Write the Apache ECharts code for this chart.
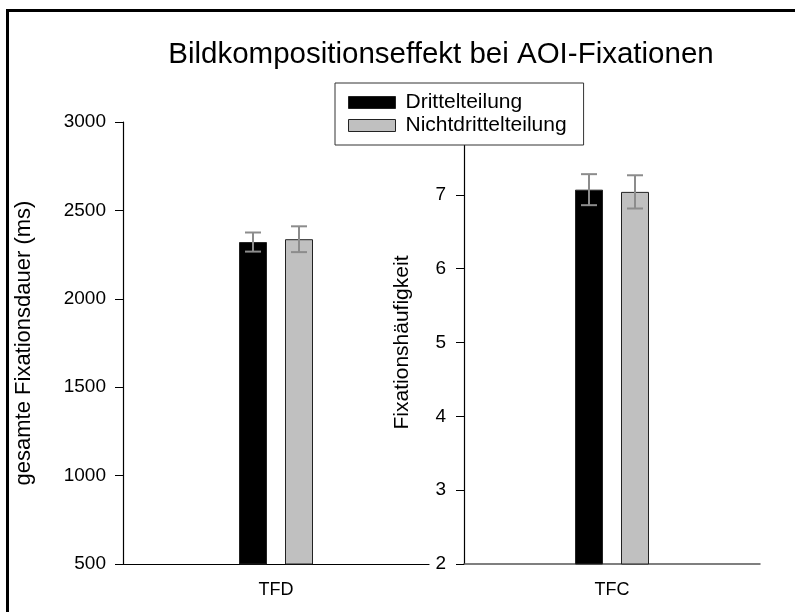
<!DOCTYPE html>
<html>
<head>
<meta charset="utf-8">
<script src="https://cdn.jsdelivr.net/npm/echarts@6/dist/echarts.min.js"></script>
<style>html,body{margin:0;padding:0;background:#fff;}#c{width:795px;height:612px;}</style>
</head>
<body>
<div id="c"></div>
<script>
const titleText = 'Bildkompositionseffekt bei AOI-Fixationen';
const seriesNames = ['Drittelteilung', 'Nichtdrittelteilung'];
const leftCategories = ['TFD'];
const rightCategories = ['TFC'];
const tfdMeans = [2321, 2337];
const tfdErrors = [54, 73];
const tfcMeans = [7.07, 7.04];
const tfcErrors = [0.21, 0.225];
const leftAxisName = 'gesamte Fixationsdauer (ms)';
const rightAxisName = 'Fixationshäufigkeit';

const FONT = 'Liberation Sans, Arial, sans-serif';
const barColors = ['#000000', '#c0c0c0'];
const BAR_W = 28, BAR_GAP = 18;

function errorSeries(xi, yi, means, errs) {
  return {
    type: 'custom', xAxisIndex: xi, yAxisIndex: yi, z: 5, silent: true,
    data: means.map((m, i) => [0, m, errs[i], i]),
    renderItem: function (params, api) {
      const m = api.value(1), e = api.value(2), idx = api.value(3);
      const c = api.coord([0, m]);
      const off = (idx === 0 ? -1 : 1) * (BAR_W + BAR_GAP) / 2;
      const x = c[0] + off;
      const top = api.coord([0, m + e])[1];
      const bot = api.coord([0, m - e])[1];
      const hw = 8;
      const st = { stroke: '#8c8c8c', lineWidth: 2 };
      return { type: 'group', children: [
        { type: 'line', shape: { x1: x, y1: top, x2: x, y2: bot }, style: st },
        { type: 'line', shape: { x1: x - hw, y1: top, x2: x + hw, y2: top }, style: st },
        { type: 'line', shape: { x1: x - hw, y1: bot, x2: x + hw, y2: bot }, style: st }
      ]};
    }
  };
}

function barSeries(name, xi, yi, val, color) {
  return {
    name: name, type: 'bar', xAxisIndex: xi, yAxisIndex: yi,
    data: [val], barWidth: BAR_W, barGap: (BAR_GAP / BAR_W * 100) + '%',
    itemStyle: { color: color, borderColor: '#222', borderWidth: 1 },
    silent: true
  };
}

const plain = v => String(v);

const chart = echarts.init(document.getElementById('c'), null, { renderer: 'canvas' });
chart.setOption({
  animation: false,
  backgroundColor: '#fff',
  textStyle: { fontFamily: FONT },
  title: {
    text: titleText, left: 436, top: 35, textAlign: 'center',
    textStyle: { fontFamily: FONT, fontSize: 29.5, fontWeight: 'normal', color: '#000' }
  },
  legend: {
    data: seriesNames, orient: 'vertical', left: 335, top: 83,
    icon: 'rect',
    itemWidth: 47, itemHeight: 12, itemGap: 2,
    padding: [9, 17, 9, 13],
    backgroundColor: '#fff', borderColor: '#333', borderWidth: 1,
    textStyle: { fontFamily: FONT, fontSize: 21, color: '#000', padding: [0, 0, 0, 5] },
    itemStyle: { borderColor: '#222', borderWidth: 1 },
    z: 10
  },
  graphic: [{
    type: 'rect', shape: { x: 7.5, y: 10.5, width: 900, height: 700 },
    style: { fill: 'none', stroke: '#000', lineWidth: 3 }, silent: true
  }],
  grid: [
    { left: 123, top: 122, width: 306, height: 442 },
    { left: 464, top: 121, width: 296, height: 443 }
  ],
  xAxis: [
    { type: 'category', gridIndex: 0, data: leftCategories,
      axisLine: { lineStyle: { color: '#000', width: 1.2 } },
      axisTick: { alignWithLabel: true, length: 6, lineStyle: { color: '#000' } },
      axisLabel: { fontFamily: FONT, fontSize: 18, color: '#000', margin: 17 } },
    { type: 'category', gridIndex: 1, data: rightCategories,
      axisLine: { lineStyle: { color: '#555', width: 1.5 } },
      axisTick: { alignWithLabel: true, length: 6, lineStyle: { color: '#000' } },
      axisLabel: { fontFamily: FONT, fontSize: 18, color: '#000', margin: 17 } }
  ],
  yAxis: [
    { type: 'value', gridIndex: 0, min: 500, max: 3000, interval: 500,
      name: leftAxisName, nameLocation: 'middle', nameGap: 88,
      nameTextStyle: { fontFamily: FONT, fontSize: 22, color: '#000' },
      axisLine: { show: true, lineStyle: { color: '#000', width: 1.2 } },
      axisTick: { show: true, length: 8, lineStyle: { color: '#000' } },
      axisLabel: { fontFamily: FONT, fontSize: 19, color: '#000', margin: 17, formatter: plain },
      splitLine: { show: false } },
    { type: 'value', gridIndex: 1, min: 2, max: 8, interval: 1,
      name: rightAxisName, nameLocation: 'middle', nameGap: 51,
      nameTextStyle: { fontFamily: FONT, fontSize: 21, color: '#000' },
      axisLine: { show: true, lineStyle: { color: '#000', width: 1.2 } },
      axisTick: { show: true, length: 8, lineStyle: { color: '#000' } },
      axisLabel: { fontFamily: FONT, fontSize: 19, color: '#000', margin: 18, formatter: plain },
      splitLine: { show: false } }
  ],
  series: [
    barSeries(seriesNames[0], 0, 0, tfdMeans[0], barColors[0]),
    barSeries(seriesNames[1], 0, 0, tfdMeans[1], barColors[1]),
    errorSeries(0, 0, tfdMeans, tfdErrors),
    barSeries(seriesNames[0], 1, 1, tfcMeans[0], barColors[0]),
    barSeries(seriesNames[1], 1, 1, tfcMeans[1], barColors[1]),
    errorSeries(1, 1, tfcMeans, tfcErrors)
  ]
});
</script>
</body>
</html>
